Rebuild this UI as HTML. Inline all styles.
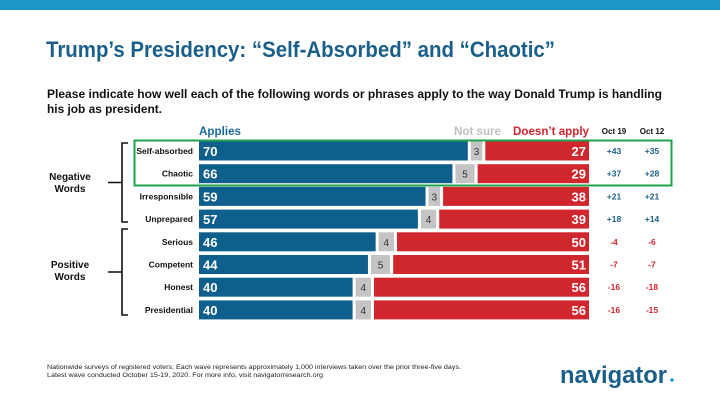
<!DOCTYPE html>
<html><head><meta charset="utf-8"><style>
body{margin:0;background:#fff;}
svg{display:block;font-family:"Liberation Sans",sans-serif;}
</style></head><body>
<svg width="720" height="405" viewBox="0 0 720 405">
<rect x="0" y="0" width="720" height="10" fill="#1b98c8"/>
<text x="46" y="57" font-size="22" font-weight="bold" fill="#1a5f8a" textLength="509" lengthAdjust="spacingAndGlyphs">Trump’s Presidency: “Self-Absorbed” and “Chaotic”</text>
<text x="47" y="98" font-size="11.5" font-weight="bold" fill="#111" textLength="615" lengthAdjust="spacingAndGlyphs">Please indicate how well each of the following words or phrases apply to the way Donald Trump is handling</text>
<text x="47" y="113" font-size="11.5" font-weight="bold" fill="#111" textLength="115" lengthAdjust="spacingAndGlyphs">his job as president.</text>
<text x="199" y="135" font-size="12" font-weight="bold" fill="#1a6a9a" textLength="42" lengthAdjust="spacingAndGlyphs">Applies</text>
<text x="501" y="135" font-size="12" font-weight="bold" fill="#c0c0c0" text-anchor="end" textLength="47" lengthAdjust="spacingAndGlyphs">Not sure</text>
<text x="589" y="135" font-size="12" font-weight="bold" fill="#d0262d" text-anchor="end" textLength="76" lengthAdjust="spacingAndGlyphs">Doesn’t apply</text>
<text x="614" y="134" font-size="8" font-weight="bold" fill="#111" text-anchor="middle">Oct 19</text>
<text x="652" y="134" font-size="8" font-weight="bold" fill="#111" text-anchor="middle">Oct 12</text>
<g id="chart"></g>
<rect x="134.5" y="140.5" width="537" height="45" fill="none" stroke="#1fa34a" stroke-width="2"/>
<path d="M128,143 H122 V222 H128 M122,182.5 H108" fill="none" stroke="#111" stroke-width="1.6"/>
<path d="M128,229 H122 V315 H128 M122,272 H108" fill="none" stroke="#111" stroke-width="1.6"/>
<text x="70" y="180" font-size="10" font-weight="bold" fill="#111" text-anchor="middle">Negative</text>
<text x="70" y="192" font-size="10" font-weight="bold" fill="#111" text-anchor="middle">Words</text>
<text x="70" y="268" font-size="10" font-weight="bold" fill="#111" text-anchor="middle">Positive</text>
<text x="70" y="280" font-size="10" font-weight="bold" fill="#111" text-anchor="middle">Words</text>
<text x="47" y="369" font-size="6.3" fill="#222" textLength="414" lengthAdjust="spacingAndGlyphs">Nationwide surveys of registered voters; Each wave represents approximately 1,000 interviews taken over the prior three-five days.</text>
<text x="47" y="377" font-size="6.3" fill="#222" textLength="276" lengthAdjust="spacingAndGlyphs">Latest wave conducted October 15-19, 2020. For more info, visit navigatorresearch.org</text>
<text x="560" y="383" font-size="24" font-weight="bold" fill="#1a5f8a" textLength="107" lengthAdjust="spacingAndGlyphs">navigator</text>
<circle cx="672" cy="380" r="1.8" fill="#1b98c8"/>
</svg>
<script>
const categories=["Self-absorbed","Chaotic","Irresponsible","Unprepared","Serious","Competent","Honest","Presidential"];
const applies=[70,66,59,57,46,44,40,40];
const notSure=[3,5,3,4,4,5,4,4];
const doesntApply=[27,29,38,39,50,51,56,56];
const oct19=["+43","+37","+21","+18","-4","-7","-16","-16"];
const oct12=["+35","+28","+21","+14","-6","-7","-18","-15"];
const NS="http://www.w3.org/2000/svg";
const g=document.getElementById('chart');
const x0=199,gap=3,unit=3.84;
const xs=v=>v*unit;
const yc=i=>151+i*22.7;
const bh=19;
function mk(tag,attrs,txt){const e=document.createElementNS(NS,tag);for(const k in attrs)e.setAttribute(k,attrs[k]);if(txt!==undefined)e.textContent=txt;g.appendChild(e);return e;}
categories.forEach((c,i)=>{
  const y=yc(i)-bh/2;
  let t=mk('text',{x:193,y:yc(i)+3,'font-size':8.5,'font-weight':'bold',fill:'#111','text-anchor':'end'},c);
  
  
  const wa=xs(applies[i]);
  let r=mk('rect',{x:x0,y:y,width:wa,height:bh,fill:'#0f5f8c'});
  
  
  t=mk('text',{x:x0+4,y:yc(i)+5,'font-size':13,'font-weight':'bold',fill:'#fff'},applies[i]);
  
  
  const xn=x0+wa+gap,wn=xs(notSure[i]);
  r=mk('rect',{x:xn,y:y,width:wn,height:bh,fill:'#c4c4c4'});
  
  
  t=mk('text',{x:xn+wn/2,y:yc(i)+4,'font-size':10,fill:'#333','text-anchor':'middle'},notSure[i]);
  
  
  const xd=xn+wn+gap,wd=xs(doesntApply[i]);
  r=mk('rect',{x:xd,y:y,width:wd,height:bh,fill:'#d0262d'});
  
  
  t=mk('text',{x:xd+wd-3,y:yc(i)+5,'font-size':13,'font-weight':'bold',fill:'#fff','text-anchor':'end'},doesntApply[i]);
  
  
  const col=v=>v[0]==='-'?'#d0262d':'#1a5f8a';
  t=mk('text',{x:614,y:yc(i)+3,'font-size':8.5,'font-weight':'bold',fill:col(oct19[i]),'text-anchor':'middle'},oct19[i]);
  
  
  t=mk('text',{x:652,y:yc(i)+3,'font-size':8.5,'font-weight':'bold',fill:col(oct12[i]),'text-anchor':'middle'},oct12[i]);
  
  
});
</script>
</body></html>
